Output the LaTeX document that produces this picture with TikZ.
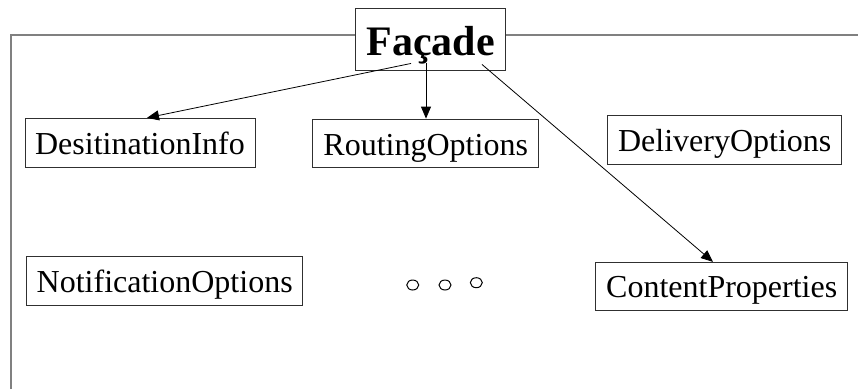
\documentclass[tikz,border=0pt]{standalone}
\usepackage{fontspec}
\setmainfont{Liberation Serif}
\usetikzlibrary{arrows.meta,calc}
\definecolor{framegray}{HTML}{808080}
\definecolor{boxline}{HTML}{303030}
\tikzset{
  cls/.style={draw=boxline, line width=0.9pt, inner sep=0pt, font=\fontsize{32}{36}\selectfont,
    text height=24pt, text depth=0.6pt, anchor=center},
  facbox/.style={draw=boxline, line width=0.9pt, inner sep=0pt, font=\fontsize{42}{46}\selectfont\bfseries,
    text height=32pt, text depth=1pt, minimum width=150.4pt, minimum height=62.4pt, anchor=center},
  frame/.style={draw=framegray, line width=2pt},
  arr/.style={draw=black, line width=0.8pt, -{Triangle[length=12pt,width=10pt]}},
  dot/.style={draw=black, line width=1pt}
}
\begin{document}
\begin{tikzpicture}[x=1pt,y=-1pt]
\useasboundingbox (0,0) rectangle (858,389);
\node[facbox] (fac) at (430.5,39.5) {Façade};
\node[cls, minimum width=230pt, minimum height=49.4pt] (di) at (140,143) {DesitinationInfo};
\node[cls, minimum width=226pt, minimum height=48.7pt] (ro) at (425.7,143.4) {RoutingOptions};
\node[cls, minimum width=234pt, minimum height=48.6pt] (do) at (724.7,140) {DeliveryOptions};
\node[cls, minimum width=276pt, minimum height=49pt] (no) at (164.7,280.5) {NotificationOptions};
\node[cls, minimum width=252pt, minimum height=47.7pt] (cp) at (721.7,286.2) {ContentProperties};
% frame
\coordinate (fl) at (11,389);
\coordinate (fr) at (858,34.7);
\draw[frame] (fl) -- (fl |- fr) -- (fac.west |- fr);
\draw[frame] (fac.east |- fr) -- (fr);
% connectors
\coordinate (s1) at ($(fac.south)+(-19.5,-7.7)$);
\coordinate (s2) at ($(fac.south)+(-4.5,-7.7)$);
\coordinate (s3) at ($(fac.south)+(51.5,-6.7)$);
\coordinate (e1) at ($(di.north)+(7,0)$);
\coordinate (e3) at ($(cp.north)+(-8.7,0)$);
\draw[arr] (s1) -- (e1);
\draw[arr] (s2) -- (s2 |- ro.north);
\draw[arr] (s3) -- (e3);
% ellipsis dots
\draw[dot] (412.7,285) ellipse (6pt and 5pt);
\draw[dot] (445,285) ellipse (6pt and 5pt);
\draw[dot] (476.3,282.7) ellipse (6pt and 5pt);
\end{tikzpicture}
\end{document}
